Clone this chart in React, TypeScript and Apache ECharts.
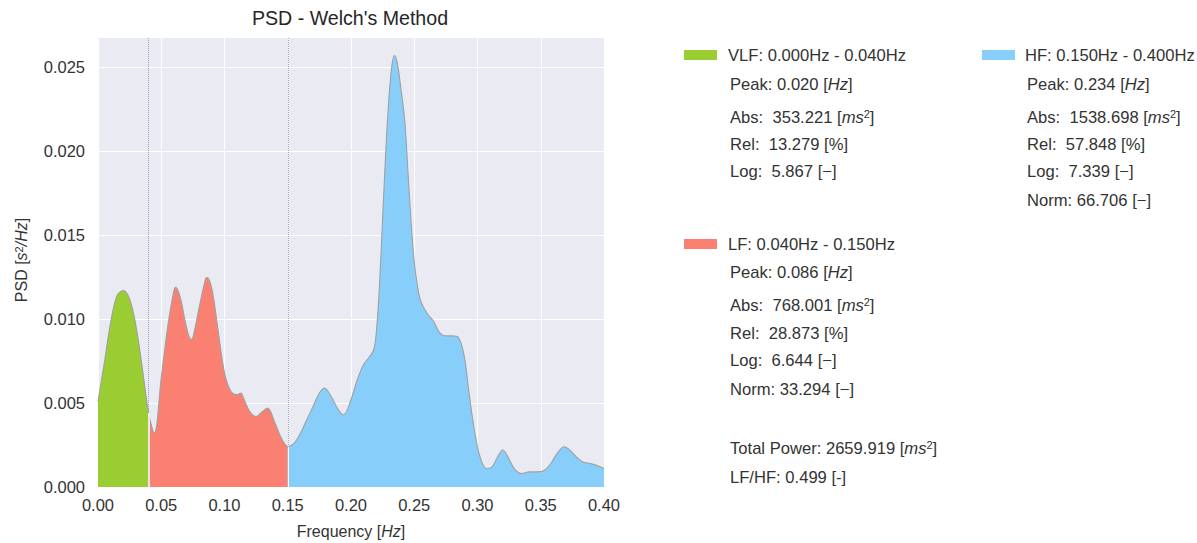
import React, { useEffect, useRef } from "react";
import * as echarts from "echarts";

// ---- data ----
const freqs = [
  0, 0.005, 0.01, 0.015, 0.02, 0.025, 0.03, 0.035, 0.04,
  0.0445, 0.05, 0.055, 0.06, 0.0615, 0.065, 0.07, 0.0735, 0.075, 0.08, 0.085, 0.0862, 0.09, 0.095,
  0.1, 0.105, 0.11, 0.113, 0.115, 0.12, 0.125, 0.13, 0.134, 0.14, 0.145, 0.15,
  0.155, 0.16, 0.165, 0.17, 0.175, 0.179, 0.185, 0.19, 0.194, 0.2, 0.205, 0.21, 0.2175,
  0.22, 0.2225, 0.225, 0.2275, 0.23, 0.2325, 0.2345, 0.2365, 0.239, 0.2425, 0.245, 0.2475,
  0.25, 0.2525, 0.255, 0.2605, 0.265, 0.27, 0.275, 0.28, 0.285, 0.2895, 0.2935, 0.2975,
  0.302, 0.307, 0.3115, 0.316, 0.32, 0.324, 0.329, 0.335, 0.341, 0.347, 0.353, 0.358,
  0.363, 0.3685, 0.373, 0.378, 0.383, 0.389, 0.394, 0.4,
];
const psd = [
  0.0051, 0.0074, 0.0098, 0.0114, 0.0117, 0.0112, 0.0096, 0.0071, 0.0044,
  0.0032, 0.0065, 0.0095, 0.0117, 0.0119, 0.0113, 0.0095, 0.0088, 0.0089, 0.0107, 0.0124, 0.01247, 0.0118, 0.0093,
  0.0068, 0.0057, 0.0055, 0.0056, 0.0053, 0.0045, 0.0042, 0.0045, 0.0047, 0.0038, 0.0029, 0.0024,
  0.0026, 0.0032, 0.004, 0.0048, 0.0056, 0.0059, 0.0053, 0.0046, 0.0043, 0.0052, 0.0064, 0.0073, 0.0081,
  0.0092, 0.012, 0.016, 0.02, 0.0232, 0.0252, 0.0257, 0.0253, 0.024, 0.0218, 0.0188, 0.0158,
  0.0134, 0.012, 0.0111, 0.0103, 0.0099, 0.0092, 0.009, 0.009, 0.0089, 0.0078, 0.0055, 0.0034,
  0.0018, 0.0011, 0.0012, 0.0018, 0.0022, 0.0018, 0.0011, 0.0008, 0.0009, 0.0009, 0.001, 0.0014,
  0.002, 0.0024, 0.0022, 0.0018, 0.0015, 0.0014, 0.0013, 0.0011,
];

const bandNames = ["VLF", "LF", "HF"];
const bandLow = [0.0, 0.04, 0.15];
const bandHigh = [0.04, 0.15, 0.4];

const xTicks = { min: 0, max: 0.4, step: 0.05 };
const yTicks = { min: 0, max: 0.0268, step: 0.005 };

const titleText = "PSD - Welch's Method";
const vlfLines = [
  "VLF: 0.000Hz - 0.040Hz",
  "Peak: 0.020 [{i|Hz}]",
  "Abs:  353.221 [{i|ms}{sup|2}]",
  "Rel:  13.279 [%]",
  "Log:  5.867 [\u2212]",
];
const lfLines = [
  "LF: 0.040Hz - 0.150Hz",
  "Peak: 0.086 [{i|Hz}]",
  "Abs:  768.001 [{i|ms}{sup|2}]",
  "Rel:  28.873 [%]",
  "Log:  6.644 [\u2212]",
  "Norm: 33.294 [\u2212]",
];
const hfLines = [
  "HF: 0.150Hz - 0.400Hz",
  "Peak: 0.234 [{i|Hz}]",
  "Abs:  1538.698 [{i|ms}{sup|2}]",
  "Rel:  57.848 [%]",
  "Log:  7.339 [\u2212]",
  "Norm: 66.706 [\u2212]",
];
const totalLines = ["Total Power: 2659.919 [{i|ms}{sup|2}]", "LF/HF: 0.499 [-]"];

// ---- styles ----
const bandColors = ["#9ACD32", "#FA8072", "#87CEFA"];
const FONT = "'Liberation Sans', Arial, Helvetica, sans-serif";
const TEXT = "#333333";

export default function App() {
  const ref = useRef<HTMLDivElement>(null);

  useEffect(() => {
    if (!ref.current) return;
    const chart = echarts.init(ref.current, undefined, { renderer: "svg" });

    const all = freqs.map((f, i) => [f, psd[i]]);
    const bandData = bandNames.map((_, b) =>
      freqs
        .map((f, i) => [f, psd[i]])
        .filter((p) => p[0] >= bandLow[b] - 1e-9 && p[0] <= bandHigh[b] + 1e-9)
    );
    const valAt = (f: number) => psd[freqs.findIndex((x) => Math.abs(x - f) < 1e-9)];

    const rich = (fs: number) => ({
      i: { fontStyle: "italic", fontSize: fs, fontFamily: FONT, fill: TEXT },
      sup: { fontSize: Math.round(fs * 0.68), fontFamily: FONT, fill: TEXT, verticalAlign: "top" },
    });

    const legendFs = 16.6;
    const textEl = (text: string, x: number, y: number, fs = legendFs) => ({
      type: "text",
      x,
      y,
      silent: true,
      style: {
        text,
        fontSize: fs,
        fontFamily: FONT,
        fill: TEXT,
        align: "left",
        verticalAlign: "middle",
        rich: rich(fs),
      },
    });

    const graphics: any[] = [];
    // title
    graphics.push({
      type: "text",
      x: 350,
      y: 18,
      silent: true,
      style: { text: titleText, fontSize: 19.6, fontFamily: FONT, fill: "#262626", align: "center", verticalAlign: "middle" },
    });
    // x name
    graphics.push({
      type: "text",
      x: 351,
      y: 531,
      silent: true,
      style: {
        text: "Frequency [{i|Hz}]",
        fontSize: 16,
        fontFamily: FONT,
        fill: TEXT,
        align: "center",
        verticalAlign: "middle",
        rich: rich(16),
      },
    });
    // y name
    graphics.push({
      type: "text",
      x: 21,
      y: 260,
      rotation: Math.PI / 2,
      silent: true,
      style: {
        text: "PSD [{i|s}{sup|2}{i|/Hz}]",
        fontSize: 16,
        fontFamily: FONT,
        fill: TEXT,
        align: "center",
        verticalAlign: "middle",
        rich: rich(16),
      },
    });

    // legend blocks
    const block = (lines: string[], color: string, swX: number, txX: number, ys: number[]) => {
      graphics.push({
        type: "rect",
        silent: true,
        shape: { x: swX, y: ys[0] - 5, width: 33, height: 10 },
        style: { fill: color },
      });
      lines.forEach((l, k) => graphics.push(textEl(l, k === 0 ? txX : txX + 2, ys[k])));
    };
    block(vlfLines, bandColors[0], 684, 728, [55, 84, 117, 144, 171]);
    block(hfLines, bandColors[2], 982, 1025, [55, 84, 117, 144, 171, 200]);
    block(lfLines, bandColors[1], 684, 728, [244, 272, 305, 333, 360, 389]);
    totalLines.forEach((l, k) => graphics.push(textEl(l, 730, [448, 477][k])));

    const option: any = {
      animation: false,
      grid: {
        left: 98,
        right: 593,
        top: 37,
        bottom: 56,
        show: true,
        backgroundColor: "#EAEAF2",
        borderWidth: 0,
      },
      xAxis: {
        type: "value",
        min: xTicks.min,
        max: xTicks.max,
        interval: xTicks.step,
        axisLine: { show: false },
        axisTick: { show: false },
        splitLine: { show: true, lineStyle: { color: "#ffffff", width: 1 } },
        axisLabel: {
          margin: 9,
          color: TEXT,
          fontSize: 16.5,
          fontFamily: FONT,
          formatter: (v: number) => v.toFixed(2),
        },
      },
      yAxis: {
        type: "value",
        min: yTicks.min,
        max: yTicks.max,
        interval: yTicks.step,
        axisLine: { show: false },
        axisTick: { show: false },
        splitLine: { show: true, lineStyle: { color: "#ffffff", width: 1 } },
        axisLabel: {
          margin: 13,
          color: TEXT,
          fontSize: 16.5,
          fontFamily: FONT,
          showMaxLabel: false,
          formatter: (v: number) => {
            const k = v / yTicks.step;
            return Math.abs(k - Math.round(k)) < 1e-6 ? v.toFixed(3) : "";
          },
        },
      },
      series: [
        ...bandData.map((d, b) => ({
          type: "line",
          name: bandNames[b],
          data: d,
          smooth: 0.35,
          symbol: "none",
          silent: true,
          lineStyle: { width: 0 },
          areaStyle: { color: bandColors[b], opacity: 1 },
          z: 2,
        })),
        {
          type: "line",
          name: "PSD",
          data: all,
          smooth: 0.35,
          symbol: "none",
          silent: true,
          lineStyle: { color: "#a0a0a0", width: 1.1 },
          z: 3,
          markLine: {
            silent: true,
            symbol: ["none", "none"],
            label: { show: false },
            animation: false,
            data: [
              { xAxis: bandHigh[0], lineStyle: { type: "dotted", color: "#97a5c6", width: 1 } },
              { xAxis: bandHigh[1], lineStyle: { type: "dotted", color: "#97a5c6", width: 1 } },
              [
                { coord: [bandHigh[0], 0], lineStyle: { type: "solid", color: "#ffffff", width: 1.5 } },
                { coord: [bandHigh[0], valAt(bandHigh[0])] },
              ],
              [
                { coord: [bandHigh[1], 0], lineStyle: { type: "solid", color: "#f4f6fb", width: 1 } },
                { coord: [bandHigh[1], valAt(bandHigh[1])] },
              ],
            ],
          },
        },
      ],
      graphic: graphics,
    };

    chart.setOption(option);
    return () => chart.dispose();
  }, []);

  return (
    <div
      ref={ref}
      style={{ position: "fixed", left: 0, top: 0, width: 1197, height: 543, background: "#ffffff" }}
    />
  );
}
